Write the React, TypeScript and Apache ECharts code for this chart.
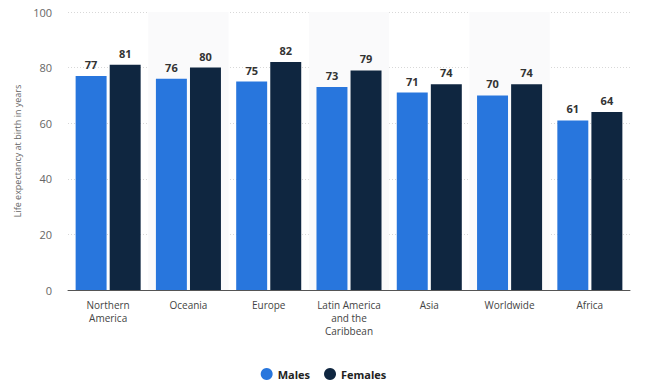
import React, { useEffect, useRef } from "react";
import * as echarts from "echarts";

const categories = ["Northern\nAmerica", "Oceania", "Europe", "Latin America\nand the\nCaribbean", "Asia", "Worldwide", "Africa"];
const males = [77, 76, 75, 73, 71, 70, 61];
const females = [81, 80, 82, 79, 74, 74, 64];
const yTicks = [0, 20, 40, 60, 80, 100];

export default function App() {
  const ref = useRef<HTMLDivElement>(null);
  useEffect(() => {
    const chart = echarts.init(ref.current!, null, { renderer: "svg" });
    const labelStyle = {
      show: true,
      position: "top" as const,
      fontFamily: "Open Sans",
      fontWeight: "bold" as const,
      fontSize: 11,
      color: "#333",
      distance: 6,
    };
    chart.setOption({
      animation: false,
      textStyle: { fontFamily: "Open Sans" },
      grid: { left: 68, right: 17, top: 12, bottom: 101 },
      legend: {
        bottom: 6,
        left: "center",
        icon: "circle",
        itemWidth: 12,
        itemHeight: 12,
        itemGap: 14,
        textStyle: { fontFamily: "Open Sans", fontWeight: "bold", fontSize: 11, color: "#222" },
        data: ["Males", "Females"],
      },
      xAxis: {
        type: "category",
        data: categories,
        axisLine: { lineStyle: { color: "#555", width: 1 } },
        axisTick: { show: false },
        axisLabel: { color: "#444", fontSize: 10, lineHeight: 13, margin: 8, interval: 0 },
        splitArea: { show: true, areaStyle: { color: ["rgba(255,255,255,0)", "#fafafb"] } },
      },
      yAxis: {
        type: "value",
        min: yTicks[0],
        max: yTicks[yTicks.length - 1],
        interval: 20,
        name: "Life expectancy at birth in years",
        nameLocation: "middle",
        nameGap: 43,
        nameTextStyle: { color: "#666", fontSize: 9 },
        axisLabel: { color: "#666", fontSize: 11, margin: 16 },
        splitLine: { lineStyle: { color: "#d8d8d8", type: [1, 2] } },
        axisLine: { show: false },
        axisTick: { show: false },
      },
      series: [
        {
          name: "Males",
          type: "bar",
          data: males,
          itemStyle: { color: "#2876dd" },
          barGap: "10%",
          barCategoryGap: "19%",
          label: labelStyle,
        },
        {
          name: "Females",
          type: "bar",
          data: females,
          itemStyle: { color: "#0f2640" },
          label: labelStyle,
        },
      ],
    });
    return () => chart.dispose();
  }, []);
  return <div ref={ref} style={{ position: "absolute", left: 0, top: 0, width: 647, height: 391 }} />;
}
